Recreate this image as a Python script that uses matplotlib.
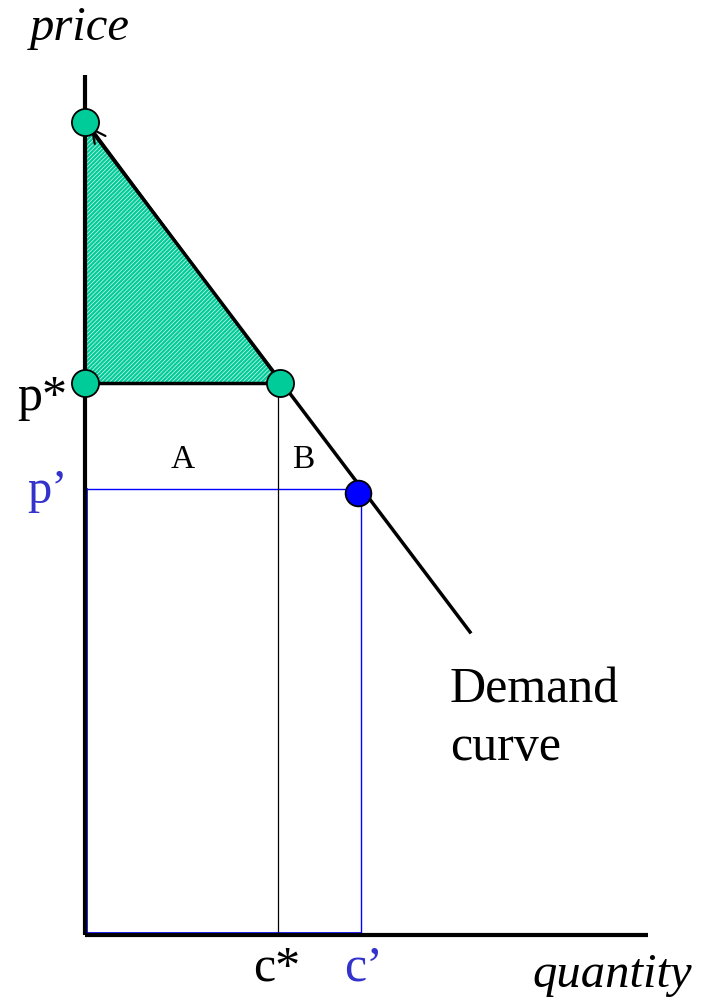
import matplotlib.pyplot as plt
from matplotlib.patches import Polygon

# chart values (quantity, price) in drawing units
top = (0, 813)          # price intercept
p_star = 552
c_star = 195
p_prime = 444
c_prime = 273
demand_end = (385, 303)
x_axis_len = 563
y_axis_len = 860

teal = '#00CC99'
blue = '#0000FF'
blue_txt = '#3333CC'
serif = ['Liberation Serif', 'DejaVu Serif']

plt.rcParams['hatch.linewidth'] = 0.5
plt.rcParams['hatch.color'] = '#DDF5EE'

fig = plt.figure(figsize=(7.05, 9.97), dpi=100)
ax = fig.add_axes([0, 0, 1, 1])
ax.set_xlim(-85, 620)
ax.set_ylim(-62, 935)
ax.axis('off')

# shaded consumer surplus triangle
tri = Polygon([top, (0, p_star), (c_star, p_star)], closed=True,
              facecolor=teal, edgecolor='#DDF5EE', hatch='////////', linewidth=0, zorder=1)
ax.add_patch(tri)

# blue p' / c' rectangle
ax.plot([2, c_prime + 3, c_prime + 3], [p_prime + 2, p_prime + 2, 2], color=blue, lw=1, zorder=2)
ax.plot([2, 2, c_prime + 3], [p_prime + 2, 2, 2], color=blue, lw=1.2, zorder=2)

# c* vertical line
ax.plot([c_star - 2, c_star - 2], [p_star, 0], color='black', lw=0.9, zorder=2)
# p* horizontal
ax.plot([0, c_star], [p_star, p_star], color='black', lw=2.5, zorder=3)

# demand curve
ax.plot([top[0], demand_end[0]], [top[1], demand_end[1]], color='black', lw=2.5, zorder=3)
ax.annotate('', xy=(top[0] + 4, top[1] - 3), xytext=(c_star - 3, p_star + 5),
            arrowprops=dict(arrowstyle='->', color='black', lw=1.6, mutation_scale=24), zorder=3)

# axes
ax.plot([0, 0], [0, y_axis_len], color='black', lw=3, zorder=4, solid_capstyle='butt')
ax.plot([0, x_axis_len], [0, 0], color='black', lw=3, zorder=4, solid_capstyle='butt')

# points
ms = 19.5
for px, py in [top, (0, p_star), (c_star, p_star)]:
    ax.plot(px, py, 'o', ms=ms, mfc=teal, mec='black', mew=1.3, zorder=5)
ax.plot(c_prime, p_prime - 2, 'o', ms=ms * 0.95, mfc=blue, mec='black', mew=1.3, zorder=5)

# labels
ax.text(-5, 907, 'price', family=serif, style='italic', fontsize=35, ha='center', va='center')
ax.text(527, -40, 'quantity', family=serif, style='italic', fontsize=35, ha='center', va='center')
ax.text(-43, p_star - 15, 'p*', family=serif, fontsize=36, ha='center', va='center')
ax.text(-38, p_prime + 0, 'p\u2019', family=serif, fontsize=35, ha='center', va='center', color=blue_txt)
ax.text(98, 475, 'A', family=serif, fontsize=24, ha='center', va='center')
ax.text(218, 475, 'B', family=serif, fontsize=24, ha='center', va='center')
ax.text(192, -33, 'c*', family=serif, fontsize=36, ha='center', va='center')
ax.text(278, -33, 'c\u2019', family=serif, fontsize=36, ha='center', va='center', color=blue_txt)
ax.text(365, 216, 'Demand\ncurve', family=serif, fontsize=36, ha='left', va='center', linespacing=1.3)

fig.savefig('out.png', dpi=100)
